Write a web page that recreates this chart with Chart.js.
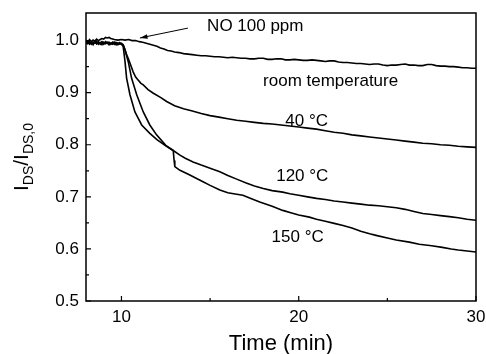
<!DOCTYPE html>
<html><head><meta charset="utf-8">
<script src="https://cdn.jsdelivr.net/npm/chart.js@4/dist/chart.umd.min.js"></script>
<style>html,body{margin:0;padding:0;background:#fff}#wrap{width:486px;height:354px;position:relative}</style>
</head><body><div id="wrap"><canvas id="c"></canvas></div>
<script>
const FONT = "'Liberation Sans', Arial, Helvetica, sans-serif";

const xTicks = [10, 20, 30];
const xMinor = [15, 25];
const yTicks = [0.5, 0.6, 0.7, 0.8, 0.9, 1.0];
const yMinor = [0.55, 0.65, 0.75, 0.85, 0.95];

const tRT = [8.0,8.1,8.2,8.3,8.4,8.5,8.6,8.7,8.8,8.9,9.0,9.1,9.2,9.3,9.4,9.5,9.6,9.8,10.0,10.2,10.4,10.6,10.8,11.0,11.2,11.4,11.6,11.8,12.0,12.2,12.4,12.6,12.8,13.0,13.25,13.5,13.75,14.0,14.25,14.5,14.75,15.0,15.25,15.5,15.75,16.0,16.25,16.5,16.75,17.0,17.25,17.5,17.75,18.0,18.25,18.5,18.75,19.0,19.25,19.5,19.75,20.0,20.25,20.5,20.75,21.0,21.25,21.5,21.75,22.0,22.25,22.5,22.75,23.0,23.25,23.5,23.75,24.0,24.25,24.5,24.75,25.0,25.25,25.5,25.75,26.0,26.25,26.5,26.75,27.0,27.25,27.5,27.75,28.0,28.25,28.5,28.75,29.0,29.25,29.5,29.75,30.0];
const vRT = [1.001,0.997,1.002,0.998,1.001,0.999,1.003,1.000,1.002,1.004,1.003,1.006,1.005,1.006,1.004,1.003,1.002,1.001,1.002,1.001,1.002,1.000,1.000,0.998,0.997,0.995,0.993,0.991,0.989,0.986,0.984,0.981,0.980,0.978,0.977,0.975,0.974,0.973,0.972,0.971,0.971,0.970,0.969,0.969,0.968,0.967,0.968,0.967,0.966,0.966,0.965,0.965,0.966,0.966,0.964,0.964,0.965,0.965,0.963,0.963,0.964,0.963,0.962,0.962,0.963,0.962,0.961,0.960,0.961,0.961,0.959,0.958,0.958,0.957,0.956,0.956,0.955,0.954,0.955,0.955,0.953,0.952,0.953,0.953,0.954,0.955,0.953,0.953,0.952,0.952,0.954,0.954,0.952,0.951,0.951,0.950,0.950,0.949,0.948,0.948,0.947,0.947];

const t40 = [8.0,8.1,8.2,8.3,8.4,8.5,8.6,8.7,8.8,8.9,9.0,9.2,9.4,9.6,9.8,10.0,10.1,10.2,10.3,10.38,10.5,10.66,10.8,10.95,11.1,11.23,11.5,11.8,12.2,12.55,13.0,13.5,14.0,14.5,15.0,15.5,16.0,16.5,17.0,17.5,18.0,18.5,19.0,19.5,20.0,20.5,21.0,21.5,22.0,22.5,23.0,23.5,24.0,24.5,25.0,25.5,26.0,26.5,27.0,27.5,28.0,28.5,29.0,29.5,30.0];
const v40 = [0.996,0.999,0.994,0.998,0.995,0.999,0.994,0.997,0.995,0.998,0.994,0.997,0.995,0.997,0.995,0.995,0.992,0.983,0.972,0.966,0.955,0.940,0.930,0.924,0.918,0.915,0.906,0.899,0.891,0.883,0.875,0.869,0.865,0.860,0.856,0.853,0.850,0.847,0.845,0.843,0.841,0.840,0.838,0.836,0.834,0.832,0.830,0.827,0.824,0.822,0.819,0.817,0.815,0.813,0.811,0.809,0.807,0.805,0.803,0.802,0.800,0.799,0.797,0.796,0.795];

const t120 = [8.0,8.1,8.2,8.3,8.4,8.5,8.6,8.7,8.8,8.9,9.0,9.1,9.2,9.3,9.4,9.5,9.6,9.7,9.8,9.9,10.0,10.1,10.2,10.29,10.48,10.76,11.14,11.6,12.0,12.5,12.92,13.3,13.6,14.04,14.5,15.0,15.55,16.0,16.5,17.0,17.5,18.0,18.5,19.1,19.5,20.0,20.5,21.0,21.5,22.0,22.5,23.0,23.5,24.0,24.5,25.0,25.5,26.0,26.5,27.0,27.5,28.0,28.5,29.0,29.5,30.0];
const v120 = [0.999,0.994,0.998,0.993,0.997,0.995,0.999,0.993,0.996,0.992,0.997,0.994,0.996,0.992,0.995,0.993,0.996,0.992,0.995,0.993,0.994,0.988,0.960,0.928,0.896,0.863,0.838,0.822,0.810,0.798,0.789,0.780,0.774,0.767,0.761,0.755,0.748,0.741,0.734,0.727,0.721,0.716,0.712,0.709,0.706,0.703,0.700,0.697,0.695,0.692,0.690,0.688,0.686,0.684,0.683,0.681,0.679,0.676,0.672,0.668,0.666,0.664,0.662,0.660,0.657,0.655];

const t150 = [8.0,8.1,8.2,8.3,8.4,8.5,8.6,8.7,8.8,8.9,9.0,9.1,9.2,9.3,9.4,9.5,9.6,9.7,9.8,9.9,10.0,10.1,10.2,10.38,10.57,10.86,11.23,11.6,11.98,12.5,12.92,12.97,13.01,13.3,13.8,14.6,15.0,15.55,16.0,16.5,16.85,17.3,17.8,18.5,19.1,19.6,20.0,20.6,21.0,21.5,22.0,22.5,23.0,23.5,24.0,24.36,25.0,25.5,26.24,26.8,27.5,28.1,28.6,29.0,29.5,30.0];
const v150 = [0.994,0.998,0.993,0.997,0.992,0.998,0.994,0.998,0.993,0.997,0.993,0.998,0.995,0.997,0.993,0.997,0.993,0.996,0.992,0.996,0.993,0.991,0.982,0.960,0.928,0.896,0.863,0.838,0.819,0.799,0.789,0.770,0.758,0.751,0.743,0.729,0.722,0.713,0.708,0.705,0.703,0.697,0.690,0.682,0.674,0.669,0.665,0.661,0.657,0.653,0.649,0.645,0.640,0.634,0.629,0.626,0.621,0.617,0.613,0.609,0.606,0.603,0.600,0.598,0.596,0.594];

const labelTexts = ['room temperature', '40 °C', '120 °C', '150 °C', 'NO 100 ppm'];
const labelX = [21.8, 20.45, 20.2, 19.94, 17.55];
const labelY = [0.921, 0.845, 0.740, 0.622, 1.027];
const arrowFrom = [13.75, 1.024];
const arrowTo = [11.04, 1.005];

function pts(t, v) { return t.map((x, i) => ({x: x, y: v[i]})); }
function ds(t, v) {
  return {data: pts(t, v), borderColor: '#000', borderWidth: 1.6, pointRadius: 0, tension: 0, fill: false};
}
function zeroPad(s) { s.paddingLeft = 0; s.paddingRight = 0; s.paddingTop = 0; s.paddingBottom = 0; }

const deco = {
  id: 'deco',
  afterDraw(chart) {
    const ctx = chart.ctx, a = chart.chartArea, xs = chart.scales.x, ys = chart.scales.y;
    ctx.save();
    ctx.strokeStyle = '#000';
    ctx.lineWidth = 1.5;
    ctx.strokeRect(a.left, a.top, a.right - a.left, a.bottom - a.top);
    ctx.lineWidth = 1.2;
    ctx.beginPath();
    xTicks.forEach(v => { const p = xs.getPixelForValue(v); ctx.moveTo(p, a.bottom); ctx.lineTo(p, a.bottom - 5); });
    xMinor.forEach(v => { const p = xs.getPixelForValue(v); ctx.moveTo(p, a.bottom); ctx.lineTo(p, a.bottom - 3); });
    yTicks.forEach(v => { const p = ys.getPixelForValue(v); ctx.moveTo(a.left, p); ctx.lineTo(a.left + 5, p); });
    yMinor.forEach(v => { const p = ys.getPixelForValue(v); ctx.moveTo(a.left, p); ctx.lineTo(a.left + 3, p); });
    ctx.stroke();

    ctx.fillStyle = '#000';
    ctx.font = '17px ' + FONT;
    ctx.textAlign = 'center';
    ctx.textBaseline = 'middle';
    labelTexts.forEach((s, i) => ctx.fillText(s, xs.getPixelForValue(labelX[i]), ys.getPixelForValue(labelY[i])));

    const x0 = xs.getPixelForValue(arrowFrom[0]), y0 = ys.getPixelForValue(arrowFrom[1]);
    const x1 = xs.getPixelForValue(arrowTo[0]), y1 = ys.getPixelForValue(arrowTo[1]);
    ctx.lineWidth = 1;
    ctx.beginPath(); ctx.moveTo(x0, y0); ctx.lineTo(x1, y1); ctx.stroke();
    const ang = Math.atan2(y1 - y0, x1 - x0), L = 8, w = 0.3;
    ctx.beginPath();
    ctx.moveTo(x1, y1);
    ctx.lineTo(x1 - L * Math.cos(ang - w), y1 - L * Math.sin(ang - w));
    ctx.lineTo(x1 - L * Math.cos(ang + w), y1 - L * Math.sin(ang + w));
    ctx.closePath(); ctx.fill();

    ctx.font = '22px ' + FONT;
    ctx.textAlign = 'center';
    ctx.textBaseline = 'alphabetic';
    ctx.fillText('Time (min)', (a.left + a.right) / 2, a.bottom + 49);

    ctx.translate(a.left - 58, (a.top + a.bottom) / 2);
    ctx.rotate(-Math.PI / 2);
    const parts = [['I', 0], ['DS', 1], ['/I', 0], ['DS,0', 1]];
    const big = '21px ' + FONT, small = '14px ' + FONT;
    let total = 0;
    parts.forEach(p => { ctx.font = p[1] ? small : big; total += ctx.measureText(p[0]).width; });
    let x = -total / 2;
    ctx.textAlign = 'left';
    parts.forEach(p => {
      ctx.font = p[1] ? small : big;
      ctx.fillText(p[0], x, p[1] ? 5 : 0);
      x += ctx.measureText(p[0]).width;
    });
    ctx.restore();
  }
};

new Chart(document.getElementById('c'), {
  type: 'line',
  data: { datasets: [ds(tRT, vRT), ds(t40, v40), ds(t120, v120), ds(t150, v150)] },
  options: {
    responsive: true, maintainAspectRatio: false, animation: false,
    layout: { padding: { top: 13, right: 10, left: 0, bottom: 0 } },
    plugins: { legend: { display: false }, tooltip: { enabled: false } },
    scales: {
      x: {
        type: 'linear', min: 8, max: 30,
        grid: { display: false, drawTicks: false },
        border: { display: false },
        afterBuildTicks: s => { s.ticks = xTicks.map(v => ({value: v})); },
        afterFit: s => { s.height = 53; zeroPad(s); },
        ticks: { color: '#000', padding: 6, font: { family: FONT, size: 17 }, callback: v => String(v), maxRotation: 0 }
      },
      y: {
        type: 'linear', min: 0.5, max: 1.053,
        grid: { display: false, drawTicks: false },
        border: { display: false },
        afterBuildTicks: s => { s.ticks = yTicks.map(v => ({value: v})); },
        afterFit: s => { s.width = 86; zeroPad(s); },
        ticks: { color: '#000', padding: 7, font: { family: FONT, size: 17 }, callback: v => Number(v).toFixed(1) }
      }
    }
  },
  plugins: [deco]
});
</script>
</body></html>
